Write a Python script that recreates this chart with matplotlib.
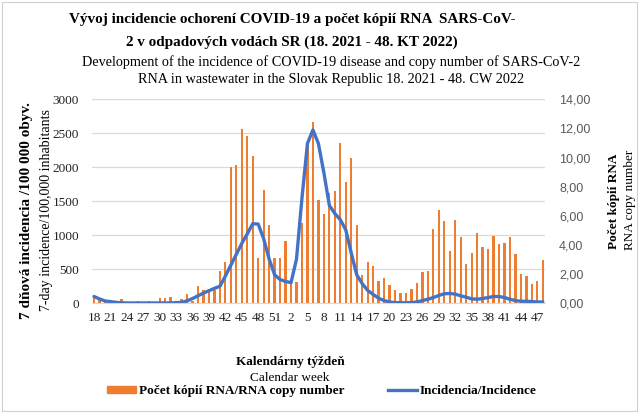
import numpy as np
import matplotlib
matplotlib.use("Agg")
import matplotlib.pyplot as plt
from matplotlib.lines import Line2D
from matplotlib.patches import Patch, Rectangle

# calendar weeks 18/2021 - 48/2022
weeks = list(range(18, 53)) + list(range(1, 49))

# RNA copy number (right axis)
rna_2021 = [0.50, 0.27, 0.11, 0.05, 0.05, 0.30, 0.05, 0.05, 0.16, 0.05,
            0.16, 0.05, 0.34, 0.38, 0.45, 0.14, 0.30, 0.66, 0.16, 1.18,
            0.89, 0.97, 0.88, 2.23, 2.85, 9.34, 9.52, 11.97, 11.48, 10.14,
            3.09, 7.78, 5.35, 3.11, 3.11]
rna_2022 = [4.25, 1.45, 1.49, 5.54, 10.8, 12.43, 7.09, 6.12, 7.56, 7.74,
            11.02, 8.30, 9.97, 5.35, 1.95, 2.85, 2.56, 1.56, 1.77, 1.28,
            0.90, 0.72, 0.72, 0.96, 1.42, 2.15, 2.22, 5.12, 6.40, 5.62,
            3.61, 5.71, 4.57, 2.67, 3.43, 4.82, 3.84, 3.73, 4.64, 4.05,
            4.16, 4.57, 3.38, 2.01, 1.87, 1.33, 1.55, 2.95]

# 7-day incidence / 100 000 (left axis)
inc_2021 = [100, 65, 35, 25, 15, 8, 5, 5, 5, 5,
            5, 5, 5, 5, 5, 8, 15, 35, 70, 110,
            150, 185, 220, 250, 400, 560, 720, 880, 1020, 1170,
            1165, 950, 650, 420, 350]
inc_2022 = [320, 305, 650, 1550, 2350, 2550, 2350, 1920, 1440, 1320,
            1230, 1080, 740, 420, 290, 190, 130, 75, 40, 20,
            10, 8, 8, 10, 20, 40, 60, 85, 115, 140,
            145, 135, 110, 90, 65, 60, 70, 85, 100, 100,
            85, 60, 40, 30, 30, 25, 20, 20]

rna = rna_2021 + rna_2022
inc = inc_2021 + inc_2022
x = np.arange(len(weeks))

orange = '#ED7D31'
blue = '#4472C4'
serif = 'Liberation Serif'

fig = plt.figure(figsize=(6.4, 4.13), dpi=100)
fig.patches.append(Rectangle((0.003, 0.004), 0.993, 0.992, transform=fig.transFigure,
                             fill=False, edgecolor='#d0d0d0', lw=0.8))

ax = fig.add_axes([0.143, 0.2656, 0.709, 0.4940])
ax2 = ax.twinx()
ax3 = ax.twinx()

# left axis: grid + ticks
ax.set_ylim(0, 3000)
ax.set_yticks(np.arange(0, 3001, 500))
ax.grid(axis='y', color='#d9d9d9', lw=0.9)
ax.set_axisbelow(True)
ax.set_xlim(-0.45, 82.45)
ax.set_xticks(x[::3])
ax.set_xticklabels([str(weeks[i]) for i in x[::3]])
ax.tick_params(length=0, labelsize=9.5, pad=6)
for lab in ax.get_xticklabels() + ax.get_yticklabels():
    lab.set_fontfamily(serif)
    lab.set_color('#222222')
ax.tick_params(axis='y', pad=9)

# right axis: bars
ax2.bar(x, rna, width=0.42, color=orange, zorder=2)
ax2.set_ylim(0, 14)
ax2.set_yticks(np.arange(0, 15, 2))
ax2.set_yticklabels(['%d,00' % v for v in range(0, 15, 2)])
ax2.tick_params(length=0, labelsize=9, pad=10, labelcolor='#595959')
for lab in ax2.get_yticklabels():
    lab.set_fontfamily('Liberation Sans')

# line on top
ax3.plot(x, inc, color=blue, lw=2.4, solid_capstyle='round', solid_joinstyle='round')
ax3.set_ylim(0, 3000)
ax3.set_yticks([])

for a in (ax, ax2, ax3):
    for s in a.spines.values():
        s.set_visible(False)
ax.spines['bottom'].set_visible(True)
ax.spines['bottom'].set_color('#d9d9d9')

# titles
fig.text(292/640, 1-19/413, 'Vývoj incidencie ochorení COVID-19 a počet kópií RNA  SARS-CoV-',
         ha='center', va='center', fontsize=10.9, fontweight='bold', family=serif)
fig.text(292/640, 1-42/413, '2 v odpadových vodách SR (18. 2021 - 48. KT 2022)',
         ha='center', va='center', fontsize=10.9, fontweight='bold', family=serif)
fig.text(331/640, 1-62/413, 'Development of the incidence of COVID-19 disease and copy number of SARS-CoV-2',
         ha='center', va='center', fontsize=10.3, family=serif)
fig.text(331/640, 1-80/413, 'RNA in wastewater in the Slovak Republic 18. 2021 - 48. CW 2022',
         ha='center', va='center', fontsize=10.3, family=serif)

# axis titles
fig.text(27/640, 1-211/413, '7 dňová incidencia /100 000 obyv.', rotation=90,
         ha='center', va='center', fontsize=11, fontweight='bold', family=serif)
fig.text(47/640, 1-210/413, '7-day incidence/100,000 inhabitants', rotation=90,
         ha='center', va='center', fontsize=10, family=serif)
fig.text(614/640, 1-201/413, 'Počet kópií RNA', rotation=90,
         ha='center', va='center', fontsize=9.5, fontweight='bold', family=serif)
fig.text(630/640, 1-200/413, 'RNA copy number', rotation=90,
         ha='center', va='center', fontsize=9.5, family=serif)
fig.text(290/640, 1-362/413, 'Kalendárny týždeň',
         ha='center', va='center', fontsize=9.5, fontweight='bold', family=serif)
fig.text(290/640, 1-378/413, 'Calendar week',
         ha='center', va='center', fontsize=9.5, family=serif)

handles = [Patch(color=orange), Line2D([], [], color=blue, lw=2.4)]
labels = ['Počet kópií RNA/RNA copy number', 'Incidencia/Incidence']
fig.legend(handles, labels, loc='center', bbox_to_anchor=(322/640, 1-391/413), ncol=2,
           frameon=False, columnspacing=3.3, handlelength=2.2, handleheight=0.5,
           handletextpad=0.2, prop={'family': serif, 'weight': 'bold', 'size': 9.5})

fig.savefig('out.png', dpi=100)
